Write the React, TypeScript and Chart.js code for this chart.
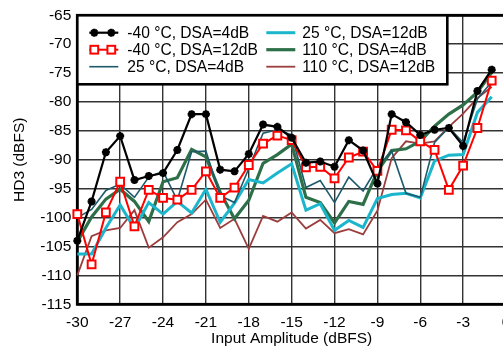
import React, { useEffect, useRef } from 'react';
import { Chart, registerables } from 'chart.js';

Chart.register(...registerables);

const xValues = [-30, -29, -28, -27, -26, -25, -24, -23, -22, -21, -20, -19, -18, -17, -16, -15, -14, -13, -12, -11, -10, -9, -8, -7, -6, -5, -4, -3, -2, -1];

const seriesLabels = ['-40 °C, DSA=4dB', '-40 °C, DSA=12dB', '25 °C, DSA=4dB', '25 °C, DSA=12dB', '110 °C, DSA=4dB', '110 °C, DSA=12dB'];

const m40dsa4 = [-104.0, -97.2, -88.7, -85.9, -93.5, -92.8, -92.3, -88.3, -82.1, -82.1, -91.7, -92.0, -89.0, -83.9, -84.3, -86.2, -90.5, -90.3, -91.2, -86.6, -88.4, -94.1, -82.1, -83.5, -85.7, -84.8, -84.5, -87.6, -78.1, -74.4];
const m40dsa12 = [-99.4, -108.1, -99.1, -93.8, -101.5, -95.2, -96.6, -96.9, -95.2, -92.0, -96.6, -94.8, -90.9, -87.2, -85.8, -86.6, -91.3, -91.2, -93.2, -89.6, -88.6, -91.9, -84.8, -84.9, -86.8, -88.3, -95.2, -91.0, -84.5, -76.3];
const t25dsa4 = [-100.0, -98.6, -95.3, -94.2, -96.5, -93.0, -92.0, -97.0, -88.6, -88.5, -96.2, -97.4, -91.5, -85.4, -84.8, -85.7, -94.8, -93.6, -97.4, -93.0, -95.4, -91.3, -88.5, -95.8, -96.5, -87.0, -84.4, -87.0, -79.5, -76.5];
const t25dsa12 = [-106.3, -106.3, -101.8, -97.8, -101.9, -97.4, -99.4, -97.2, -99.2, -95.1, -100.8, -97.5, -93.4, -94.0, -92.3, -90.7, -98.7, -97.6, -102.2, -100.5, -101.7, -96.7, -96.0, -95.8, -96.6, -90.2, -89.2, -89.1, -81.8, -79.1];
const h110dsa4 = [-104.2, -99.9, -96.8, -95.1, -97.2, -100.7, -93.8, -93.1, -88.2, -89.5, -95.6, -100.2, -97.0, -90.6, -89.1, -87.3, -96.5, -97.4, -100.9, -97.2, -97.7, -92.0, -88.4, -88.1, -86.8, -84.2, -82.1, -80.5, -78.3, -74.9];
const h110dsa12 = [-110.0, -103.2, -102.2, -101.8, -98.7, -105.2, -103.4, -100.8, -99.4, -96.9, -101.8, -100.2, -105.4, -99.7, -100.7, -99.1, -101.9, -100.4, -102.7, -102.0, -102.9, -98.8, -89.7, -86.8, -87.2, -86.8, -84.3, -82.0, -79.3, -77.4];

const xTicks = [-30, -27, -24, -21, -18, -15, -12, -9, -6, -3, 0];
const yTicks = [-115, -110, -105, -100, -95, -90, -85, -80, -75, -70, -65];

const FONT = "'Liberation Sans', Arial, Helvetica, sans-serif";

const styles = [
  { color: '#000000', width: 2.2, point: 'star', radius: 4, pbw: 2.5, fill: '#000000' },
  { color: '#ff0000', width: 2, point: 'rect', radius: 5.5, pbw: 2, fill: '#ffffff' },
  { color: '#1c5a6b', width: 1.6, point: false, radius: 0, pbw: 0, fill: '#1c5a6b' },
  { color: '#1bb6cb', width: 3, point: false, radius: 0, pbw: 0, fill: '#1bb6cb' },
  { color: '#2d6f48', width: 3.2, point: false, radius: 0, pbw: 0, fill: '#2d6f48' },
  { color: '#9c3d3d', width: 1.8, point: false, radius: 0, pbw: 0, fill: '#9c3d3d' },
];

function drawMarker(ctx: CanvasRenderingContext2D, kind: any, x: number, y: number, s: any) {
  if (kind === 'star') {
    ctx.save();
    ctx.strokeStyle = s.color;
    ctx.lineWidth = s.pbw;
    const r = s.radius;
    ctx.beginPath();
    for (let k = 0; k < 4; k++) {
      const a = (k * Math.PI) / 4;
      ctx.moveTo(x - r * Math.cos(a), y - r * Math.sin(a));
      ctx.lineTo(x + r * Math.cos(a), y + r * Math.sin(a));
    }
    ctx.stroke();
    ctx.restore();
  } else if (kind === 'rect') {
    ctx.save();
    const h = s.radius * Math.SQRT1_2;
    ctx.fillStyle = s.fill;
    ctx.strokeStyle = s.color;
    ctx.lineWidth = s.pbw;
    ctx.fillRect(x - h, y - h, 2 * h, 2 * h);
    ctx.strokeRect(x - h, y - h, 2 * h, 2 * h);
    ctx.restore();
  }
}

const frameLegendPlugin = {
  id: 'frameLegend',
  beforeDatasetsDraw(chart: any) {
    const { ctx, chartArea: a } = chart;
    ctx.save();
    ctx.strokeStyle = '#000';
    ctx.lineWidth = 2.8;
    ctx.strokeRect(a.left, a.top, a.right - a.left, a.bottom - a.top);
    ctx.restore();
  },
  afterDatasetsDraw(chart: any) {
    const { ctx, chartArea: a } = chart;
    ctx.save();
    const lx = a.left, ly = a.top, lw = 370, lh = 69;
    ctx.fillStyle = '#fff';
    ctx.fillRect(lx, ly, lw, lh);
    ctx.strokeStyle = '#000';
    ctx.lineWidth = 2.6;
    ctx.strokeRect(lx, ly, lw, lh);
    ctx.font = `15.6px ${FONT}`;
    ctx.textBaseline = 'middle';
    ctx.textAlign = 'left';
    seriesLabels.forEach((label, i) => {
      const s = styles[i];
      const col = Math.floor(i / 3);
      const row = i % 3;
      const sx = lx + (col === 0 ? 12 : 189);
      const tx = lx + (col === 0 ? 50 : 225);
      const y = ly + 17.4 + row * 17;
      ctx.strokeStyle = s.color;
      ctx.lineWidth = s.width;
      ctx.beginPath();
      ctx.moveTo(sx, y);
      ctx.lineTo(sx + 29, y);
      ctx.stroke();
      if (s.point) {
        drawMarker(ctx, s.point, sx + 5, y, s);
        drawMarker(ctx, s.point, sx + 22, y, s);
      }
      ctx.fillStyle = '#000';
      ctx.fillText(label, tx, y + 1);
    });
    ctx.restore();
  },
};

export default function App() {
  const ref = useRef<HTMLCanvasElement>(null);
  useEffect(() => {
    if (!ref.current) return;
    const all = [m40dsa4, m40dsa12, t25dsa4, t25dsa12, h110dsa4, h110dsa12];
    const datasets = all.map((vals, i) => {
      const s = styles[i];
      return {
        label: seriesLabels[i],
        data: vals.map((v, j) => ({ x: xValues[j], y: v })),
        borderColor: s.color,
        backgroundColor: s.fill,
        borderWidth: s.width,
        pointStyle: s.point || 'circle',
        pointRadius: s.radius,
        pointBorderWidth: s.pbw,
        pointBorderColor: s.color,
        pointBackgroundColor: s.fill,
        tension: 0,
        clip: false as any,
      };
    });
    const chart = new Chart(ref.current, {
      type: 'line',
      data: { datasets },
      plugins: [frameLegendPlugin],
      options: {
        animation: false,
        responsive: false,
        maintainAspectRatio: false,
        devicePixelRatio: 1,
        layout: { padding: { left: 0, right: 24, top: 13.3, bottom: 0 } },
        plugins: { legend: { display: false }, tooltip: { enabled: false } },
        scales: {
          x: {
            type: 'linear',
            min: -30,
            max: 0,
            afterBuildTicks: (scale: any) => { scale.ticks = xTicks.map((v) => ({ value: v })); },
            afterFit: (scale: any) => { scale.height = 45.7; },
            grid: { color: '#333333', lineWidth: 1.4, drawTicks: false },
            border: { display: false },
            ticks: { color: '#000', padding: 9, maxRotation: 0, font: { family: FONT, size: 15.5 } },
            title: { display: true, text: 'Input Amplitude (dBFS)', color: '#000', padding: { top: 0, bottom: 2 }, font: { family: FONT, size: 15.5 } },
          },
          y: {
            type: 'linear',
            min: -115,
            max: -65,
            afterBuildTicks: (scale: any) => { scale.ticks = yTicks.map((v) => ({ value: v })); },
            afterFit: (scale: any) => { scale.width = 77.3; },
            grid: { color: '#333333', lineWidth: 1.4, drawTicks: false },
            border: { display: false },
            ticks: { color: '#000', padding: 6, font: { family: FONT, size: 15.5 } },
            title: { display: true, text: 'HD3 (dBFS)', color: '#000', padding: { top: 10.7, bottom: 0 }, font: { family: FONT, size: 15.5 } },
          },
        },
      },
    });
    return () => chart.destroy();
  }, []);
  return (
    <div style={{ position: 'fixed', left: 0, top: 0, width: 503, height: 350, overflow: 'hidden', background: '#fff' }}>
      <canvas ref={ref} width={530} height={350} style={{ width: 530, height: 350, display: 'block' }} />
    </div>
  );
}
